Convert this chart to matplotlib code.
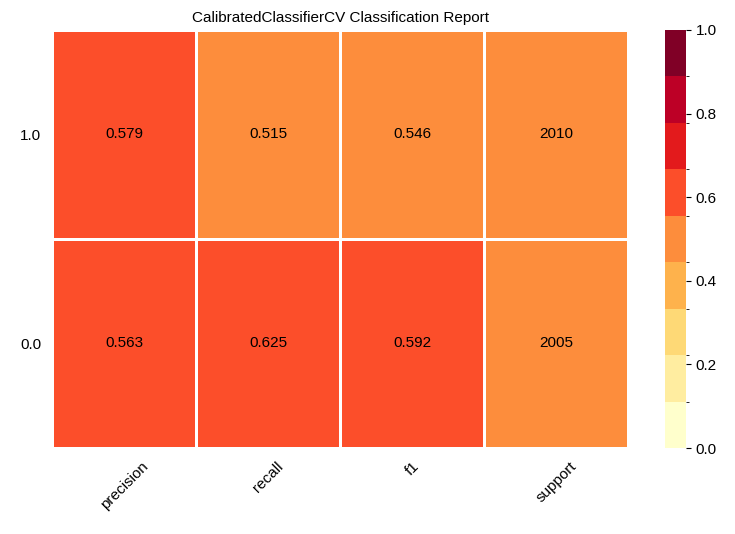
import numpy as np
import matplotlib
matplotlib.use("Agg")
import matplotlib.pyplot as plt
from matplotlib.colors import ListedColormap, BoundaryNorm

plt.rcParams['font.family'] = ['Liberation Sans', 'DejaVu Sans']

classes = ["0.0", "1.0"]
metrics = ["precision", "recall", "f1", "support"]
precision = [0.563, 0.579]
recall = [0.625, 0.515]
f1 = [0.592, 0.546]
support = [2005, 2010]

total = sum(support)
vals = np.array([precision, recall, f1, [s / total for s in support]]).T
labels = [[f"{precision[i]:.3f}", f"{recall[i]:.3f}", f"{f1[i]:.3f}", str(support[i])] for i in range(2)]

colors = ["#ffffcc", "#ffeda0", "#fed976", "#feb24c", "#fd8d3c",
          "#fc4e2a", "#e31a1c", "#bd0026", "#800026"]
cmap = ListedColormap(colors)
norm = BoundaryNorm(np.linspace(0, 1, 10), cmap.N)

fig = plt.figure(figsize=(7.35, 5.34), dpi=100)
ax = fig.add_axes([0.071, 0.161, 0.784, 0.783])
cax = fig.add_axes([0.905, 0.161, 0.028, 0.783])

mesh = ax.pcolormesh(vals, cmap=cmap, norm=norm, edgecolors="white", linewidth=2)
for i in range(2):
    for j in range(4):
        ax.text(j + 0.5, i + 0.5, labels[i][j], ha="center", va="center", fontsize=11, color="black")

ax.set_xticks(np.arange(4) + 0.5)
ax.set_xticklabels(metrics, rotation=45, fontsize=11)
ax.set_yticks(np.arange(2) + 0.5)
ax.set_yticklabels(classes, fontsize=11)
ax.tick_params(length=0, pad=8)
for s in ax.spines.values():
    s.set_visible(False)
ax.set_xlim(0, 4)
ax.set_ylim(0, 2)
ax.set_title("CalibratedClassifierCV Classification Report", fontsize=11)

cb = fig.colorbar(mesh, cax=cax, ticks=[0, 0.2, 0.4, 0.6, 0.8, 1.0])
cb.ax.tick_params(labelsize=11)
cb.outline.set_visible(False)

fig.savefig("out.png", dpi=100)
